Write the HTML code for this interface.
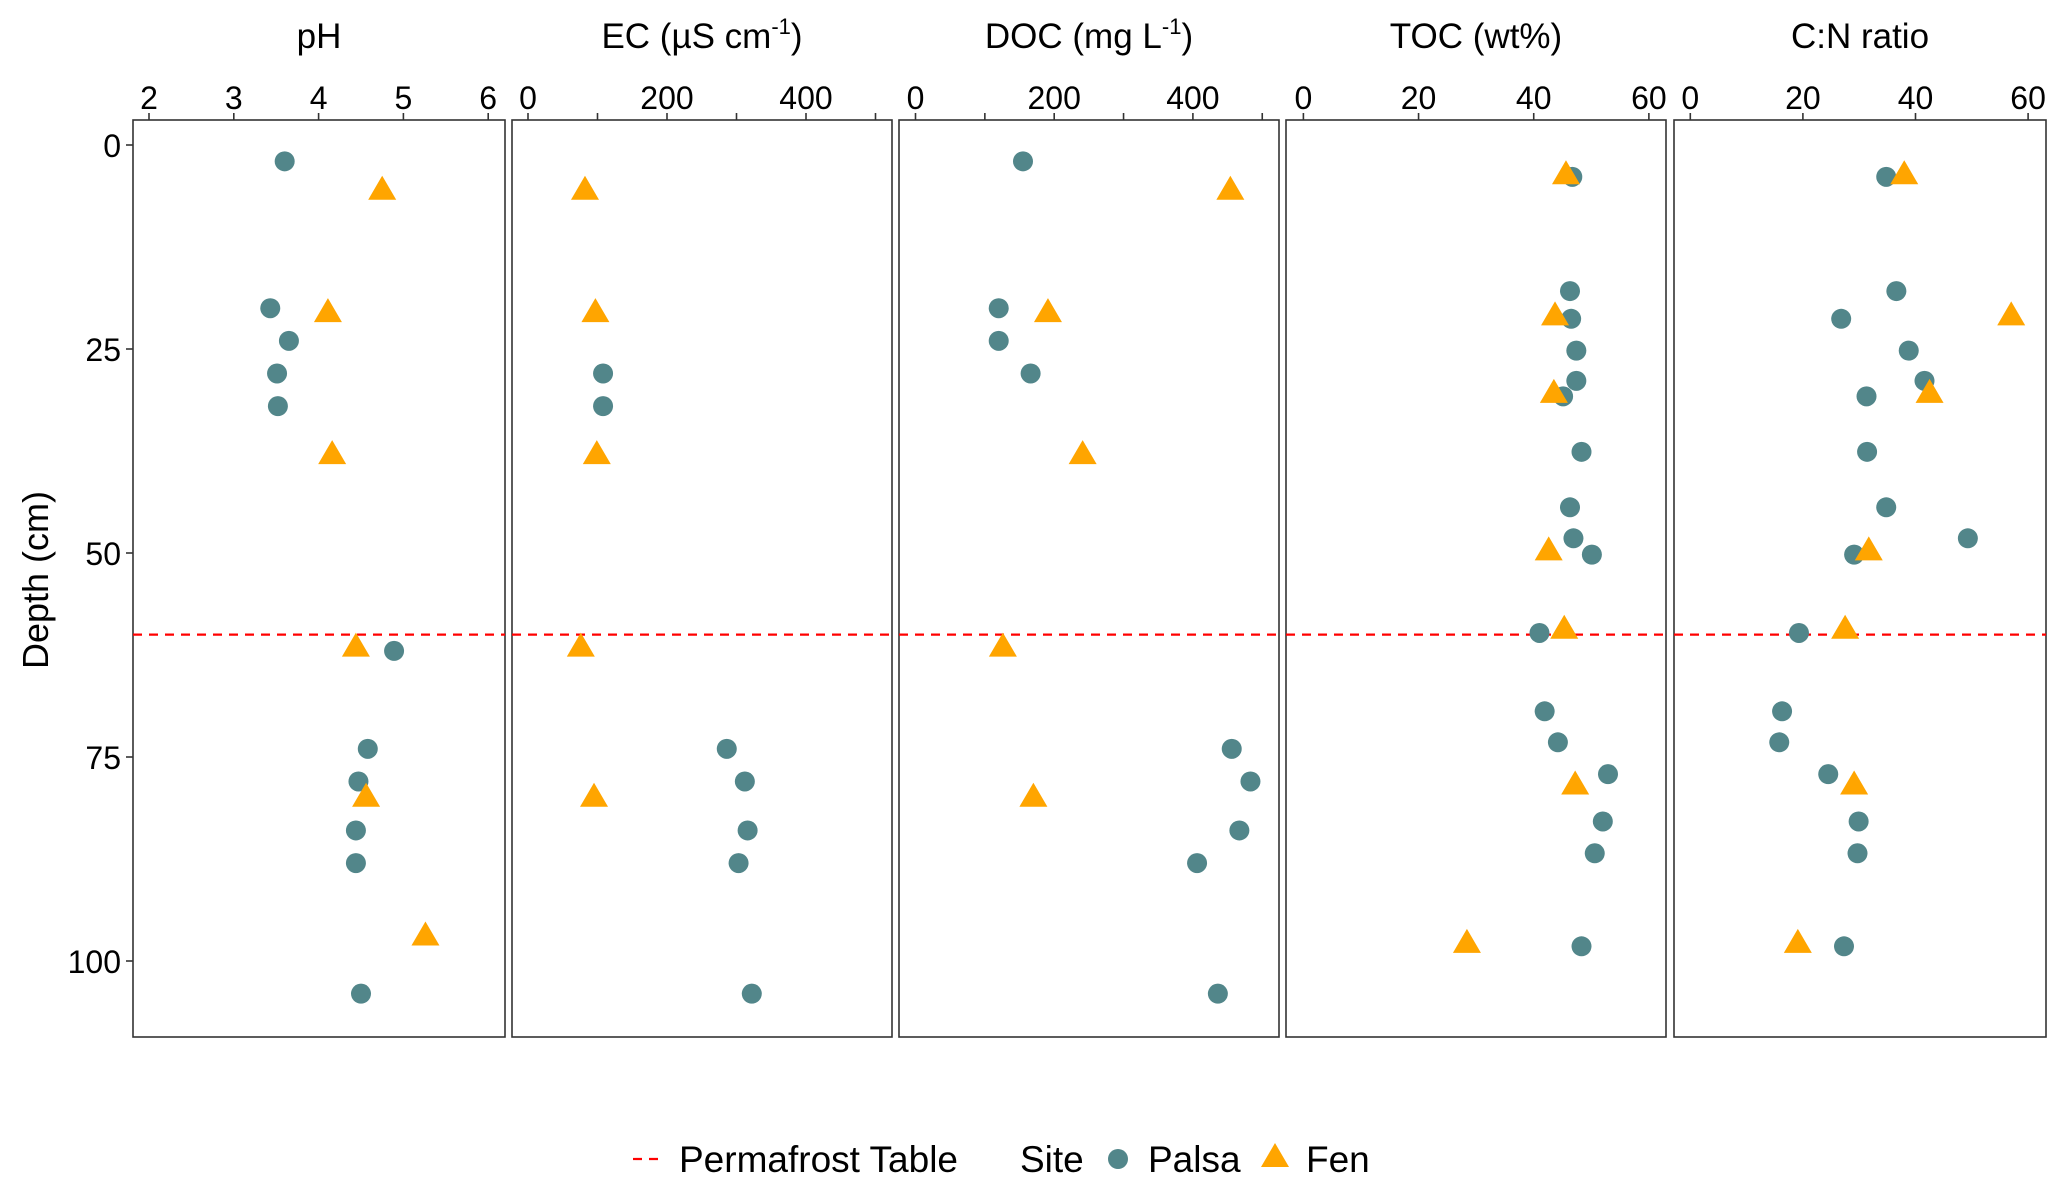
<!DOCTYPE html>
<html><head><meta charset="utf-8"><style>
html,body{margin:0;padding:0;background:#fff;}
svg{display:block;font-family:"Liberation Sans",Arial,sans-serif;}
</style></head><body>
<svg id="chart" width="2067" height="1193" viewBox="0 0 2067 1193" xmlns="http://www.w3.org/2000/svg"></svg>
<script>
// Depths (cm)
const palsaDepthA = [2, 20, 24, 28, 32, 62, 74, 78, 84, 88, 104];
const fenDepthA = [5.6, 20.6, 38, 61.6, 80, 97];
const palsaDepthB = [3.9, 17.9, 21.3, 25.2, 28.9, 30.8, 37.6, 44.4, 48.2, 50.2, 59.8, 69.4, 73.2, 77.1, 82.9, 86.8, 98.2];
const fenDepthB = [3.7, 21, 30.5, 49.8, 59.4, 78.5, 97.9];
// pH
const palsaPH = [3.60, 3.43, 3.65, 3.51, 3.52, 4.89, 4.58, 4.47, 4.44, 4.44, 4.50];
const fenPH = [4.75, 4.11, 4.16, 4.44, 4.56, 5.26];
// EC
const palsaECDepth = [28, 32, 74, 78, 84, 88, 104];
const palsaEC = [108, 108, 286, 312, 316, 303, 322];
const fenECDepth = [5.6, 20.6, 38, 61.6, 80];
const fenEC = [82, 97, 99, 76, 95];
// DOC
const palsaDOCDepth = [2, 20, 24, 28, 74, 78, 84, 88, 104];
const palsaDOC = [155, 120, 120, 166, 456, 483, 467, 406, 436];
const fenDOCDepth = [5.6, 20.6, 38, 61.6, 80];
const fenDOC = [454, 191, 241, 126, 170];
// TOC
const palsaTOC = [46.7, 46.3, 46.5, 47.4, 47.4, 45.1, 48.3, 46.3, 46.9, 50.1, 41.0, 41.9, 44.2, 52.9, 52.0, 50.6, 48.3];
const fenTOC = [45.6, 43.7, 43.5, 42.6, 45.3, 47.2, 28.4];
// C:N
const palsaCN = [34.8, 36.6, 26.8, 38.8, 41.6, 31.3, 31.4, 34.8, 49.3, 29.1, 19.3, 16.3, 15.8, 24.5, 29.9, 29.7, 27.3];
const fenCN = [38.0, 57.0, 42.5, 31.7, 27.5, 29.1, 19.1];
// Axis ticks
const depthTicks = [0, 25, 50, 75, 100];
const permafrostDepth = 60;
const panelTitles = ["pH", "EC", "DOC", "TOC (wt%)", "C:N ratio"];

const NS = "http://www.w3.org/2000/svg";
const svg = document.getElementById("chart");
function mk(tag, attrs, parent) {
  const e = document.createElementNS(NS, tag);
  for (const k in attrs) e.setAttribute(k, attrs[k]);
  (parent || svg).appendChild(e);
  return e;
}
const top_ = 120, bot = 1037;
function yScale(d) { return 145 + d * 8.16; }

const panels = [
  {name:"ph", left:133, right:505, x0:149, v0:2, ppu:84.8, ticks:[2,3,4,5,6], labels:["2","3","4","5","6"],
   pd:palsaDepthA, pv:palsaPH, fd:fenDepthA, fv:fenPH},
  {name:"ec", left:512, right:892, x0:528, v0:0, ppu:0.6950, ticks:[0,100,200,300,400,500], labels:["0","","200","","400",""],
   pd:palsaECDepth, pv:palsaEC, fd:fenECDepth, fv:fenEC},
  {name:"doc", left:899, right:1279, x0:915.5, v0:0, ppu:0.6935, ticks:[0,100,200,300,400,500], labels:["0","","200","","400",""],
   pd:palsaDOCDepth, pv:palsaDOC, fd:fenDOCDepth, fv:fenDOC},
  {name:"toc", left:1286, right:1666, x0:1303.4, v0:0, ppu:5.758, ticks:[0,20,40,60], labels:["0","20","40","60"],
   pd:palsaDepthB, pv:palsaTOC, fd:fenDepthB, fv:fenTOC},
  {name:"cn", left:1674, right:2046, x0:1690.3, v0:0, ppu:5.63, ticks:[0,20,40,60], labels:["0","20","40","60"],
   pd:palsaDepthB, pv:palsaCN, fd:fenDepthB, fv:fenCN}
];

panels.forEach((p, i) => {
  const g = mk("g", {});
  
  
  const xs = v => p.x0 + (v - p.v0) * p.ppu;
  // title
  const cx = (p.left + p.right) / 2;
  const t = mk("text", {x: cx, y: 48, "text-anchor": "middle", "font-size": 35, fill: "#000"}, g);
  
  
  if (p.name === "ec") {
    t.innerHTML = 'EC (\u00b5S cm<tspan font-size="22" dy="-14">-1</tspan><tspan dy="14">)</tspan>';
  } else if (p.name === "doc") {
    t.innerHTML = 'DOC (mg L<tspan font-size="22" dy="-14">-1</tspan><tspan dy="14">)</tspan>';
  } else t.textContent = panelTitles[i];
  // box
  const r = mk("rect", {x: p.left, y: top_, width: p.right - p.left, height: bot - top_, fill: "none", stroke: "#333", "stroke-width": 1.6}, g);
  
  
  // x ticks
  p.ticks.forEach((tv, j) => {
    const x = xs(tv);
    const tk = mk("line", {x1: x, x2: x, y1: top_ - 7, y2: top_, stroke: "#333", "stroke-width": 1.6}, g);
    
    
    if (p.labels[j]) {
      const tl = mk("text", {x: x, y: 109, "text-anchor": "middle", "font-size": 32, fill: "#000"}, g);
      
      
      tl.textContent = p.labels[j];
    }
  });
  // permafrost line
  const pl = mk("line", {x1: p.left, x2: p.right, y1: yScale(permafrostDepth), y2: yScale(permafrostDepth), stroke: "#ff0000", "stroke-width": 2.2, "stroke-dasharray": "9,7"}, g);
  
  
  // palsa points
  p.pv.forEach((v, k) => {
    const c = mk("circle", {cx: xs(v), cy: yScale(p.pd[k]), r: 10, fill: "#52868a"}, g);
    
    
  });
  // fen points
  p.fv.forEach((v, k) => {
    const x = xs(v), y = yScale(p.fd[k]);
    const tr = mk("polygon", {points: `${x},${y-15} ${x-14},${y+9} ${x+14},${y+9}`, fill: "#ffa500"}, g);
    
    
  });
});

// y axis
depthTicks.forEach(d => {
  const y = yScale(d);
  const tk = mk("line", {x1: 126, x2: 133, y1: y, y2: y, stroke: "#333", "stroke-width": 1.6});
  
  
  const tl = mk("text", {x: 121, y: y + 12, "text-anchor": "end", "font-size": 32, fill: "#000"});
  
  
  tl.textContent = d;
});
const yt = mk("text", {x: 0, y: 0, transform: "translate(48,580) rotate(-90)", "text-anchor": "middle", "font-size": 36, fill: "#000"});


yt.textContent = "Depth (cm)";

// legend
const lg = mk("g", {});


const ll = mk("line", {x1: 633, x2: 662, y1: 1159, y2: 1159, stroke: "#ff0000", "stroke-width": 2.2, "stroke-dasharray": "9,7"}, lg);


const lt1 = mk("text", {x: 679, y: 1172, "font-size": 37, fill: "#000"}, lg);


lt1.textContent = "Permafrost Table";
const lt2 = mk("text", {x: 1020, y: 1172, "font-size": 37, fill: "#000"}, lg);


lt2.textContent = "Site";
const lc = mk("circle", {cx: 1118, cy: 1159, r: 10, fill: "#52868a"}, lg);


const lt3 = mk("text", {x: 1148, y: 1172, "font-size": 37, fill: "#000"}, lg);


lt3.textContent = "Palsa";
const ltr = mk("polygon", {points: "1275,1143 1261,1167 1289,1167", fill: "#ffa500"}, lg);


const lt4 = mk("text", {x: 1306, y: 1172, "font-size": 37, fill: "#000"}, lg);


lt4.textContent = "Fen";
</script>
</body></html>
